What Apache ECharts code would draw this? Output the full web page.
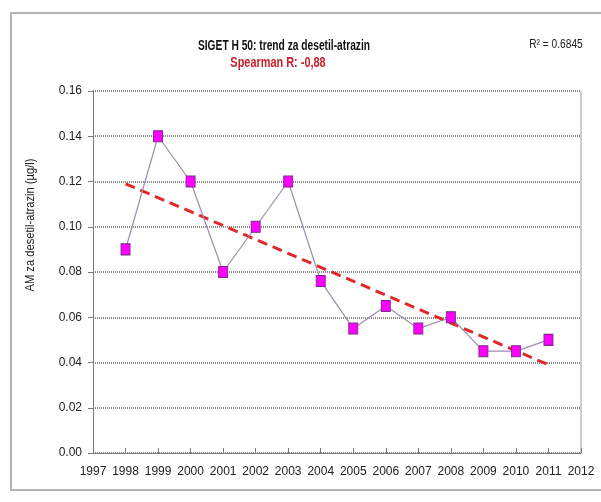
<!DOCTYPE html>
<html>
<head>
<meta charset="utf-8">
<script src="https://cdn.jsdelivr.net/npm/echarts@6/dist/echarts.min.js"></script>
<style>html,body{margin:0;padding:0;background:#fff;}#c{width:601px;height:502px;}</style>
</head>
<body>
<div id="c"></div>
<script>
const years = [1998, 1999, 2000, 2001, 2002, 2003, 2004, 2005, 2006, 2007, 2008, 2009, 2010, 2011];
const values = [0.09, 0.14, 0.12, 0.08, 0.10, 0.12, 0.076, 0.055, 0.065, 0.055, 0.06, 0.045, 0.045, 0.05];
const trendYears = [1998, 2011];
const trendValues = [0.119, 0.039];
const titleText = 'SIGET H 50: trend za desetil-atrazin';
const subtitleText = 'Spearman R: -0,88';
const r2Text = 'R² = 0.6845';
const yName = 'AM za desetil-atrazin (µg/l)';

const FONT = "'Liberation Sans', Arial, sans-serif";
const chart = echarts.init(document.getElementById('c'), null, {renderer: 'canvas'});
chart.setOption({
  backgroundColor: '#fff',
  animation: false,
  grid: {left: 93, right: 20, top: 91, bottom: 49, show: false},
  xAxis: {
    type: 'value', min: 1997, max: 2012, interval: 1,
    axisLine: {show: true, onZero: false, lineStyle: {color: '#7a7a7a', width: 1}},
    axisTick: {show: true, inside: true, length: 5, lineStyle: {color: '#7a7a7a'}},
    axisLabel: {color: '#222', fontSize: 12, fontFamily: FONT, margin: 13, formatter: v => String(v)},
    splitLine: {show: false}
  },
  yAxis: {
    type: 'value', min: 0, max: 0.16, interval: 0.02,
    axisLine: {show: true, lineStyle: {color: '#7a7a7a', width: 1}},
    axisTick: {show: true, length: 5, lineStyle: {color: '#7a7a7a'}},
    axisLabel: {color: '#222', fontSize: 12, fontFamily: FONT, margin: 11, formatter: v => v.toFixed(2)},
    splitLine: {show: true, lineStyle: {color: '#8a8a8a', type: [1, 1], width: 2}}
  },
  graphic: [
    {type: 'rect', shape: {x: 11, y: 13, width: 600, height: 477}, style: {fill: 'none', stroke: '#b4b4b4', lineWidth: 2}, silent: true, z: -1},
    {type: 'line', shape: {x1: 581, y1: 91, x2: 581, y2: 453}, style: {stroke: '#9a9a9a', lineWidth: 1}},
    {type: 'text', x: 284, y: 46, scaleX: 0.73, style: {text: titleText, font: "bold 14px " + FONT, fill: '#111', textAlign: 'center', textVerticalAlign: 'middle'}},
    {type: 'text', x: 278, y: 63, scaleX: 0.78, style: {text: subtitleText, font: "bold 14px " + FONT, fill: '#c8202a', textAlign: 'center', textVerticalAlign: 'middle'}},
    {type: 'text', x: 556, y: 45, scaleX: 0.85, style: {text: r2Text, font: "12px " + FONT, fill: '#222', textAlign: 'center', textVerticalAlign: 'middle'}},
    {type: 'text', x: 31, y: 225, rotation: Math.PI / 2, scaleX: 0.93, style: {text: yName, font: "12px " + FONT, fill: '#222', textAlign: 'center', textVerticalAlign: 'middle'}}
  ],
  series: [
    {
      type: 'line',
      data: years.map((y, i) => [y, values[i]]),
      symbol: 'rect', symbolSize: [9, 11],
      lineStyle: {color: '#9f8aae', width: 1.2},
      itemStyle: {color: '#ff00ff', borderColor: '#7a2a8a', borderWidth: 1},
      z: 3
    },
    {
      type: 'line',
      data: trendYears.map((y, i) => [y, trendValues[i]]),
      symbol: 'none',
      lineStyle: {color: '#e02828', width: 3, type: [10, 6]},
      z: 2
    }
  ]
});
</script>
</body>
</html>
